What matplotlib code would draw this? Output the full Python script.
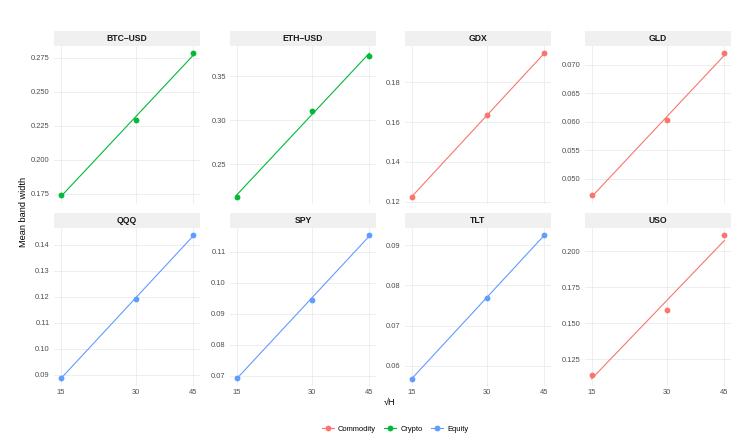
import numpy as np
import matplotlib
matplotlib.use("Agg")
import matplotlib.pyplot as plt
from matplotlib.lines import Line2D

plt.rcParams['font.family'] = ['Liberation Sans', 'DejaVu Sans']

# data
horizons = [15, 30, 45]
tickers = ['BTC\u2013USD', 'ETH\u2013USD', 'GDX', 'GLD', 'QQQ', 'SPY', 'TLT', 'USO']
groups = ['Crypto', 'Crypto', 'Commodity', 'Commodity', 'Equity', 'Equity', 'Equity', 'Commodity']
btc = [0.1737, 0.2290, 0.2782]
eth = [0.2129, 0.3110, 0.3737]
gdx = [0.1224, 0.1633, 0.1946]
gld = [0.0471, 0.0602, 0.0720]
qqq = [0.0886, 0.1192, 0.1437]
spy = [0.0692, 0.0946, 0.1154]
tlt = [0.0568, 0.0770, 0.0925]
uso = [0.1143, 0.1593, 0.2112]
series = [btc, eth, gdx, gld, qqq, spy, tlt, uso]

yticks = [
    ['0.175', '0.200', '0.225', '0.250', '0.275'],
    ['0.25', '0.30', '0.35'],
    ['0.12', '0.14', '0.16', '0.18'],
    ['0.050', '0.055', '0.060', '0.065', '0.070'],
    ['0.09', '0.10', '0.11', '0.12', '0.13', '0.14'],
    ['0.07', '0.08', '0.09', '0.10', '0.11'],
    ['0.06', '0.07', '0.08', '0.09'],
    ['0.125', '0.150', '0.175', '0.200'],
]

colors = {'Commodity': '#F8766D', 'Crypto': '#00BA38', 'Equity': '#619CFF'}

W, H = 753, 446
fig = plt.figure(figsize=(W / 100, H / 100), dpi=100)

col_x = [54, 230, 405, 585]
pw = 146
row_top = [46, 228]
ph = 158
strip_h = 15

h = np.array(horizons, dtype=float)
for i, (name, grp, vals) in enumerate(zip(tickers, groups, series)):
    r, c = divmod(i, 4)
    x0 = col_x[c] / W
    y0 = 1 - (row_top[r] + ph) / H
    ax = fig.add_axes([x0, y0, pw / W, ph / H])
    col = colors[grp]
    ax.set_xscale('function', functions=(np.sqrt, np.square))
    # linear fit on sqrt(H), like geom_smooth(method = "lm")
    k, b = np.polyfit(np.sqrt(h), vals, 1)
    ax.plot(h, k * np.sqrt(h) + b, color=col, lw=0.8, zorder=2)
    ax.plot(h, vals, 'o', color=col, ms=4.2, mec='none', zorder=3)
    ax.margins(0.05)
    ax.set_xticks(horizons)
    ax.set_xticklabels([str(v) for v in horizons] if r == 1 else [])
    ax.set_yticks([float(t) for t in yticks[i]])
    ax.set_yticklabels(yticks[i])
    ax.minorticks_off()
    ax.grid(True, color='#EBEBEB', lw=0.6)
    ax.set_axisbelow(True)
    for s in ax.spines.values():
        s.set_visible(False)
    ax.tick_params(length=0, labelsize=5.4, labelcolor='#4D4D4D', pad=3)
    ax.tick_params(axis='x', pad=2.5)
    # facet strip
    sax = fig.add_axes([x0, 1 - row_top[r] / H, pw / W, strip_h / H])
    sax.set_facecolor('#F0F0F0')
    sax.set_xticks([])
    sax.set_yticks([])
    for s in sax.spines.values():
        s.set_visible(False)
    sax.text(0.5, 0.5, name, ha='center', va='center', fontsize=6.2,
             fontweight='bold', color='#1A1A1A', transform=sax.transAxes)

fig.text(24 / W, 1 - 212 / H, 'Mean band width', rotation=90, ha='center',
         va='center', fontsize=6.6)
fig.text(390 / W, 1 - 402 / H, '\u221aH', ha='center', va='center', fontsize=6.6)

handles = [Line2D([], [], color=colors[g], marker='o', ms=4.2, mec='none', lw=0.8)
           for g in colors]
fig.legend(handles, list(colors), loc='center', bbox_to_anchor=(395 / W, 1 - 429 / H),
           ncol=3, frameon=False, fontsize=5.4, handlelength=1.6, handletextpad=0.5,
           columnspacing=1.2)

fig.savefig('out.png', dpi=100, facecolor='white')
